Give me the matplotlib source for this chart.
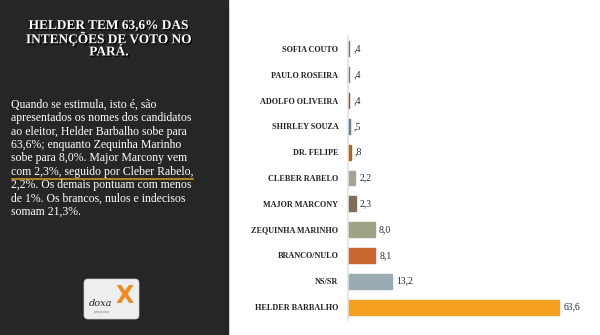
import matplotlib.pyplot as plt
from matplotlib.patches import Rectangle, FancyBboxPatch
import matplotlib.patheffects as pe

# data (top to bottom as in the chart)
categories = ["SOFIA COUTO", "PAULO ROSEIRA", "ADOLFO OLIVEIRA", "SHIRLEY SOUZA",
              "DR. FELIPE", "CLEBER RABELO", "MAJOR MARCONY", "ZEQUINHA MARINHO",
              "BRANCO/NULO", "NS/SR", "HELDER BARBALHO"]
values = [0.4, 0.4, 0.4, 0.5, 0.8, 2.2, 2.3, 8.0, 8.1, 13.2, 63.6]
value_labels = [",4", ",4", ",4", ",5", ",8", "2,2", "2,3", "8,0", "8,1", "13,2", "63,6"]
bar_colors = ["#7a7264", "#7b7e69", "#8c4a30", "#6c7c88", "#b0661c", "#a9a196",
              "#7e6f56", "#9da384", "#c9652f", "#9aacb3", "#f5a020"]

title_lines = ["HELDER TEM 63,6% DAS", "INTENÇÕES DE VOTO NO", "PARÁ."]
body_lines = ["Quando se estimula, isto é, são",
              "apresentados os nomes dos candidatos",
              "ao eleitor, Helder Barbalho sobe para",
              "63,6%; enquanto Zequinha Marinho",
              "sobe para 8,0%. Major Marcony vem",
              "com 2,3%, seguido por Cleber Rabelo,",
              "2,2%. Os demais pontuam com menos",
              "de 1%. Os brancos, nulos e indecisos",
              "somam 21,3%."]

W, H = 600, 335
fig = plt.figure(figsize=(W / 100, H / 100), dpi=100)
fig.patch.set_facecolor("white")

# overlay in pixel coords (y down)
bg = fig.add_axes([0, 0, 1, 1])
bg.set_xlim(0, W)
bg.set_ylim(H, 0)
bg.axis("off")
bg.add_patch(Rectangle((0, 0), 228, H, color="#262626", zorder=0))

serif = "Liberation Serif"
for i, line in enumerate(title_lines):
    bg.text(109, 26 + i * 13.2, line, ha="center", va="center", color="white",
            fontsize=9.6, fontweight="bold", family=serif,
            path_effects=[pe.withSimplePatchShadow(offset=(1, -1), shadow_rgbFace="black", alpha=0.9)])

for i, line in enumerate(body_lines):
    bg.text(11, 105 + i * 13.35, line, ha="left", va="center", color="white",
            fontsize=8.5, family=serif)
bg.plot([12, 193], [179, 179], color="#c8922a", lw=1.2)

# logo
bg.add_patch(FancyBboxPatch((84, 279), 55, 40, boxstyle="round,pad=0,rounding_size=4",
                            facecolor="#eeeeee", edgecolor="#cccccc", lw=0.5))
bg.text(125, 296, "X", ha="center", va="center", color="#f08a1e", fontsize=17,
        fontweight="bold", family="DejaVu Sans")
bg.text(101, 303, "doxa", ha="center", va="center", color="#222222", fontsize=7,
        fontstyle="italic", family="DejaVu Serif")
bg.text(102, 312, "pesquisa", ha="center", va="center", color="#777777", fontsize=2.5)

# bar chart
ax = fig.add_axes([348 / W, 1 - 320 / H, 242 / W, 284 / H])
ax.set_facecolor("none")
ypos = list(range(len(categories)))
ax.barh(ypos, values, height=0.58, color=bar_colors, edgecolor=bar_colors, linewidth=1.0)
ax.set_ylim(len(categories) - 0.5, -0.5)
ax.set_xlim(0, 242 / 3.32)
ax.set_yticks(ypos)
ax.set_yticklabels(categories, family=serif, fontweight="bold", fontsize=5.9, color="#222222")
ax.tick_params(axis="y", length=0, pad=7)
ax.set_xticks([])
for s in ["top", "right", "bottom"]:
    ax.spines[s].set_visible(False)
ax.spines["left"].set_color("#e2e2e2")
ax.spines["left"].set_linewidth(1.2)
for y, v, lab in zip(ypos, values, value_labels):
    ax.text(v + 1.3, y, lab, ha="left", va="center", fontsize=7, family=serif,
            color="#1e2a38")

fig.savefig("out.png", dpi=100, facecolor=fig.get_facecolor())
